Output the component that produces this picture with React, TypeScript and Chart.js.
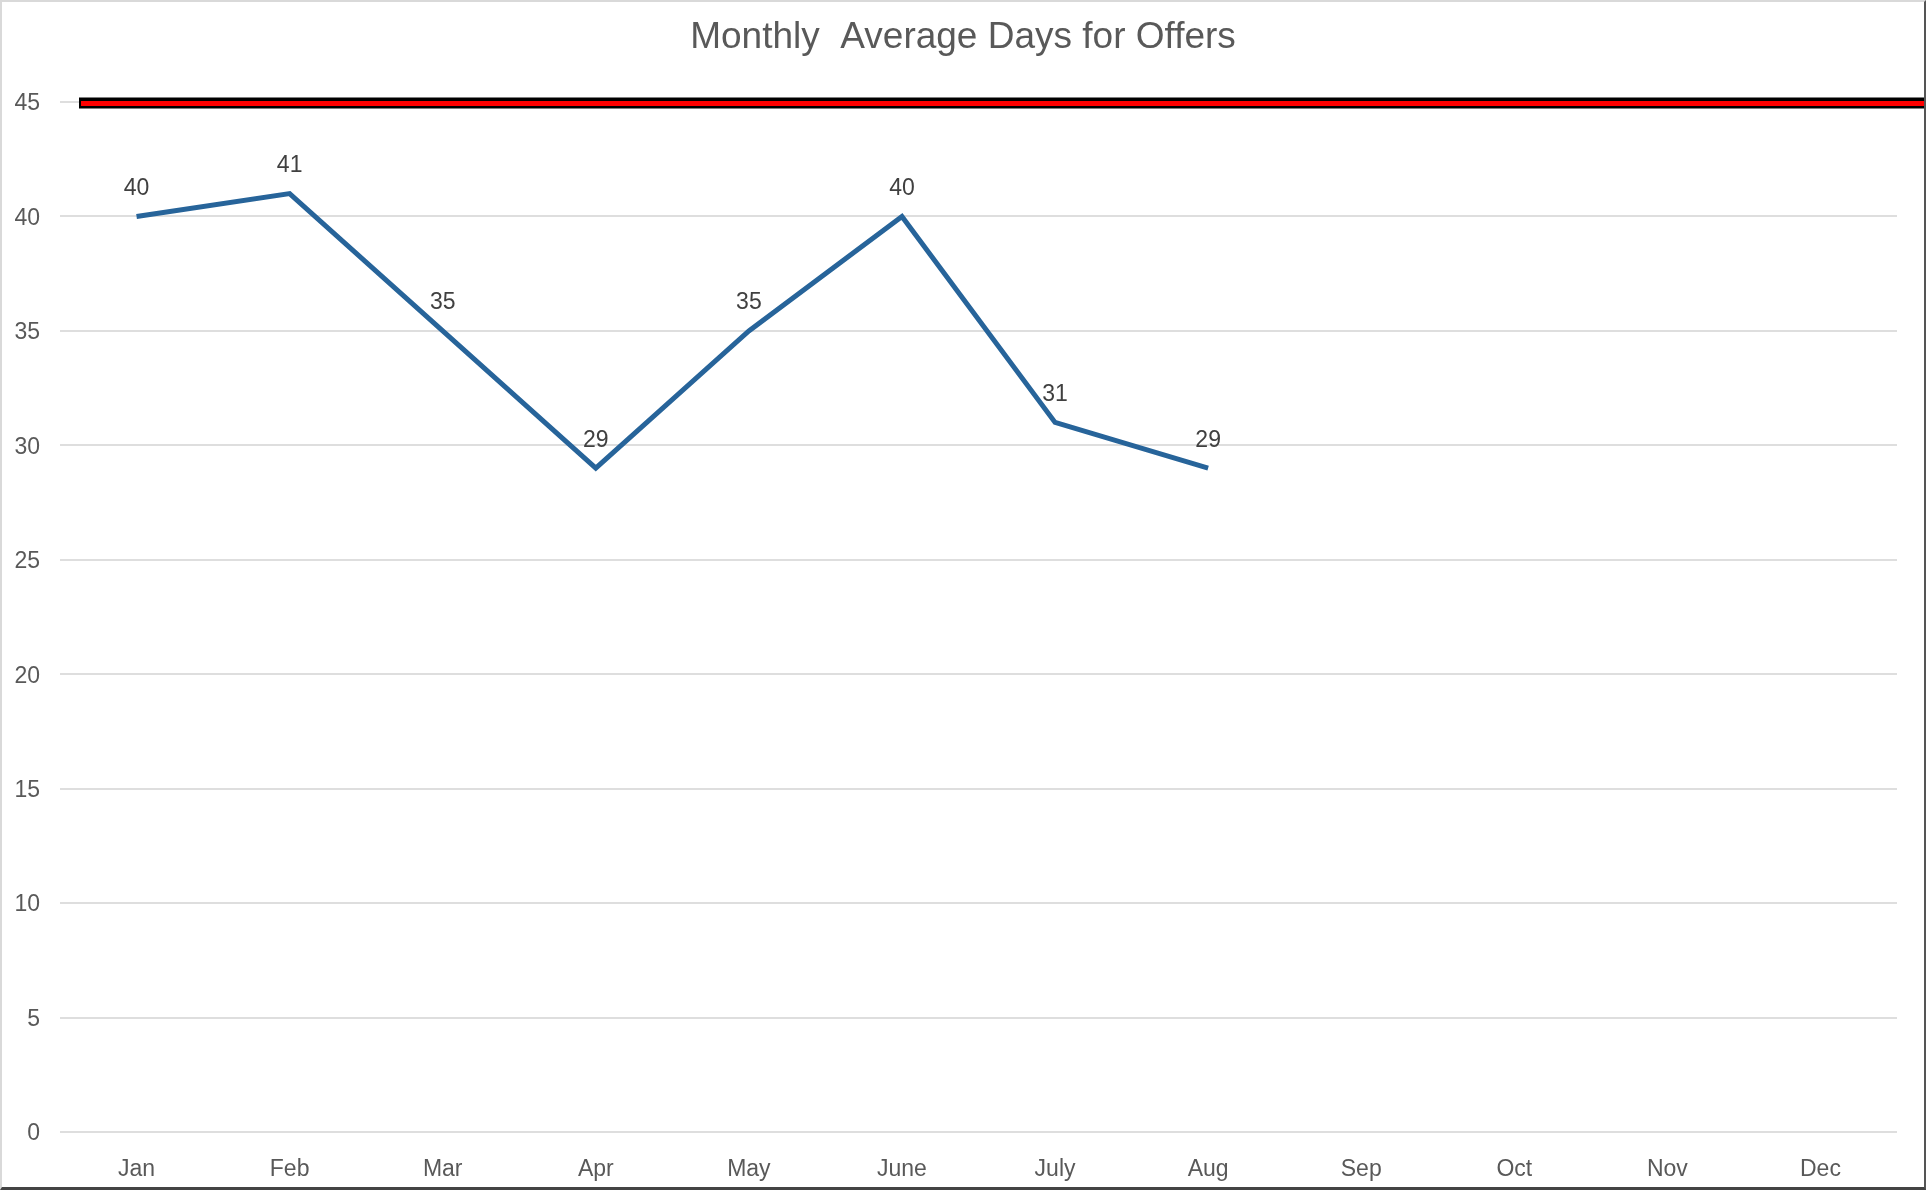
import React, { useEffect, useRef } from "react";
import { Chart, registerables } from "chart.js";

Chart.register(...registerables);

// ---- data ----
const months = ["Jan", "Feb", "Mar", "Apr", "May", "June", "July", "Aug", "Sep", "Oct", "Nov", "Dec"];
const avgDays = [40, 41, 35, 29, 35, 40, 31, 29];
const targetValues = [45];
const yMin = 0;
const yMax = 45;
const yStep = 5;
const chartTitle = "Monthly  Average Days for Offers";

const FONT = "'Liberation Sans', Arial, sans-serif";

export default function App() {
  const canvasRef = useRef<HTMLCanvasElement | null>(null);

  useEffect(() => {
    const canvas = canvasRef.current;
    if (!canvas) return;

    const targetPlugin = {
      id: "targetLine",
      afterDatasetsDraw(chart: any) {
        const { ctx, chartArea, scales } = chart;
        ctx.save();
        targetValues.forEach((v) => {
          const y = scales.y.getPixelForValue(v);
          const x0 = chartArea.left + 19;
          const x1 = chart.width;
          ctx.lineCap = "butt";
          ctx.beginPath();
          ctx.moveTo(x0, y + 1);
          ctx.lineTo(x1, y + 1);
          ctx.strokeStyle = "#000000";
          ctx.lineWidth = 11;
          ctx.stroke();
          ctx.beginPath();
          ctx.moveTo(x0 + 2, y + 1.5);
          ctx.lineTo(x1, y + 1.5);
          ctx.strokeStyle = "#ff0000";
          ctx.lineWidth = 5;
          ctx.stroke();
        });
        ctx.restore();
      },
    };

    const labelPlugin = {
      id: "valueLabels",
      afterDatasetsDraw(chart: any) {
        const { ctx } = chart;
        const meta = chart.getDatasetMeta(0);
        ctx.save();
        ctx.font = `23px ${FONT}`;
        ctx.fillStyle = "#404040";
        ctx.textAlign = "center";
        ctx.textBaseline = "middle";
        meta.data.forEach((pt: any, i: number) => {
          const v = avgDays[i];
          if (v === null || v === undefined) return;
          ctx.fillText(String(v), pt.x, pt.y - 28);
        });
        ctx.restore();
      },
    };

    const chart = new Chart(canvas, {
      type: "line",
      data: {
        labels: months,
        datasets: [
          {
            label: "Average Days",
            data: avgDays,
            borderColor: "#27649a",
            backgroundColor: "#27649a",
            borderWidth: 5,
            pointRadius: 0,
            pointHoverRadius: 0,
            tension: 0,
            fill: false,
          },
        ],
      },
      options: {
        responsive: false,
        animation: false,
        events: [],
        layout: { padding: { left: 0, right: 0, top: 0, bottom: 0 } },
        plugins: {
          legend: { display: false },
          tooltip: { enabled: false },
          title: {
            display: true,
            text: chartTitle,
            color: "#595959",
            font: { family: FONT, size: 37, weight: "normal", lineHeight: 1.2 },
            padding: { top: 16, bottom: 41.6 },
          },
        },
        scales: {
          x: {
            offset: true,
            grid: { display: false, drawTicks: false },
            border: { display: false },
            ticks: {
              color: "#595959",
              font: { family: FONT, size: 23 },
              padding: 24,
              maxRotation: 0,
              autoSkip: false,
            },
            afterFit(scale: any) {
              scale.height = 58;
            },
          },
          y: {
            min: yMin,
            max: yMax,
            grid: { color: "#dedede", lineWidth: 2, drawTicks: false },
            border: { display: false },
            ticks: {
              stepSize: yStep,
              color: "#595959",
              font: { family: FONT, size: 23 },
              padding: 20,
              labelOffset: 2,
            },
            afterFit(scale: any) {
              scale.width = 60;
            },
          },
          yRight: {
            position: "right",
            display: true,
            min: yMin,
            max: yMax,
            grid: { display: false, drawTicks: false },
            border: { display: false },
            ticks: { display: false },
            afterFit(scale: any) {
              scale.width = 29;
            },
          },
        },
      },
      plugins: [targetPlugin, labelPlugin],
    });

    return () => {
      chart.destroy();
    };
  }, []);

  return (
    <div
      style={{
        position: "fixed",
        left: 0,
        top: 0,
        width: 1926,
        height: 1190,
        background: "#ffffff",
      }}
    >
      <canvas ref={canvasRef} width={1926} height={1190} style={{ display: "block" }} />
      <div
        style={{
          position: "absolute",
          left: 0,
          top: 0,
          width: 1926,
          height: 1190,
          boxSizing: "border-box",
          borderTop: "2px solid #d9d9d9",
          borderLeft: "2px solid #d9d9d9",
          borderRight: "2px solid #555555",
          borderBottom: "3px solid #444444",
          pointerEvents: "none",
        }}
      />
    </div>
  );
}
